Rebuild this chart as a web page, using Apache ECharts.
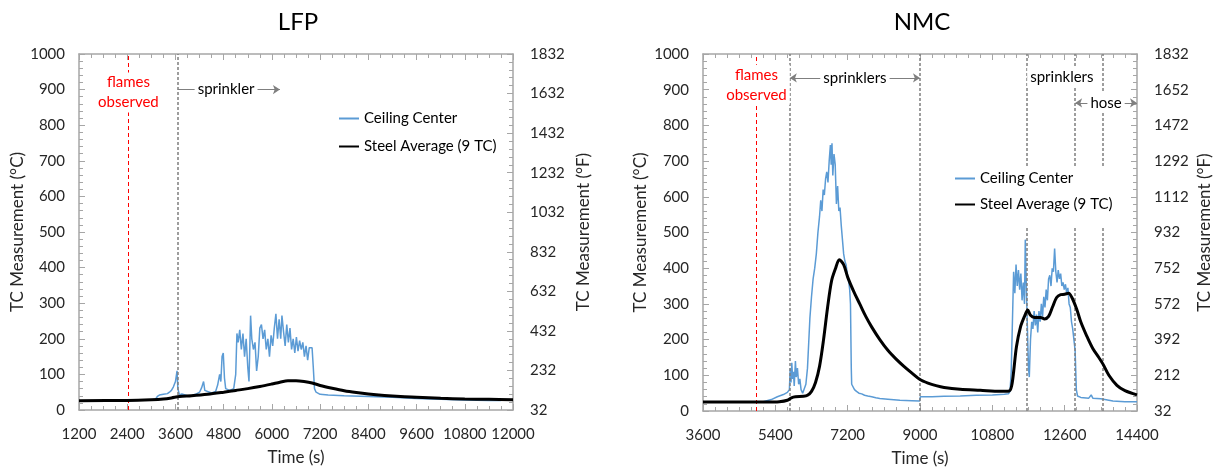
<!DOCTYPE html>
<html lang="en">
<head>
<meta charset="UTF-8">
<title>LFP / NMC</title>
<script src="https://cdn.jsdelivr.net/npm/echarts@6/dist/echarts.min.js"></script>
<style>
  html, body { margin: 0; padding: 0; background: #fff; }
  #main { width: 1225px; height: 468px; }
</style>
</head>
<body>
<div id="main"></div>
<script>
var FONT = 'Lato';

// ---- LFP test ----
var lfpCeiling = [
  [1200,26],[1800,26],[2400,27],[3000,28],[3100,30],[3150,38],[3200,42],[3300,44],[3400,46],[3450,50],
  [3500,55],[3550,65],[3600,80],[3640,110],[3660,60],[3700,42],[3760,45],[3800,40],[3900,40],[4000,41],
  [4100,44],[4200,50],[4250,62],[4300,80],[4330,55],[4400,52],[4500,48],[4600,52],[4650,70],[4700,100],
  [4730,80],[4760,150],[4790,160],[4820,90],[4850,60],[4950,55],[5050,60],[5100,100],[5130,215],[5160,190],
  [5200,225],[5240,170],[5280,215],[5320,150],[5360,200],[5400,120],[5430,80],[5470,265],[5500,200],[5540,170],
  [5580,190],[5620,110],[5660,150],[5700,230],[5740,240],[5780,200],[5820,225],[5860,170],[5900,200],[5940,150],
  [5980,210],[6020,180],[6060,230],[6100,270],[6140,200],[6180,255],[6220,200],[6250,265],[6290,220],[6330,180],
  [6370,240],[6410,190],[6450,230],[6490,170],[6530,200],[6570,160],[6610,205],[6650,165],[6690,195],[6730,170],
  [6770,190],[6810,150],[6850,180],[6890,140],[6930,175],[6970,170],[7000,175],[7030,120],[7060,60],[7100,50],
  [7200,44],[7400,42],[7800,40],[8400,38],[9000,36],[9600,32],[10200,30],[10800,28],[11400,27],[11700,27]
];
var lfpSteel = [
  [1200,26],[2400,27],[3000,29],[3300,31],[3500,34],[3700,38],[4000,40],[4400,44],[4800,50],[5100,55],
  [5400,60],[5700,66],[6000,73],[6200,78],[6400,82],[6600,82],[6800,80],[7000,76],[7200,69],[7500,61],
  [7800,54],[8100,49],[8400,45],[8800,41],[9200,38],[9600,36],[10200,33],[10800,31],[11400,30],[12000,29]
];
var lfpFlames = [2430];
var lfpSprinkler = [3660];

// ---- NMC test ----
var nmcCeiling = [
  [3600,25],[4200,25],[4800,25],[5100,26],[5300,32],[5450,40],[5600,46],[5700,52],[5750,60],[5770,120],
  [5790,80],[5810,135],[5830,90],[5850,110],[5870,70],[5900,140],[5920,95],[5950,120],[5980,75],[6010,90],
  [6040,60],[6080,50],[6120,55],[6160,75],[6200,120],[6230,190],[6260,260],[6300,320],[6340,370],[6380,400],
  [6420,440],[6460,500],[6500,545],[6530,590],[6560,560],[6590,620],[6620,605],[6650,650],[6680,670],[6710,640],
  [6740,700],[6770,745],[6790,690],[6810,750],[6830,660],[6860,720],[6890,690],[6920,580],[6950,630],[6980,560],
  [7010,570],[7040,520],[7070,480],[7100,440],[7130,420],[7160,410],[7190,385],[7220,370],[7250,340],[7270,300],
  [7290,120],[7300,75],[7330,70],[7370,60],[7420,55],[7480,50],[7550,48],[7620,44],[7700,42],[7800,40],
  [7900,37],[8000,35],[8200,33],[8500,30],[8800,29],[8990,28],[9010,40],[9300,40],[9600,41],[10000,42],
  [10400,44],[10800,45],[11100,47],[11200,48],[11240,55],[11270,110],[11300,250],[11330,390],[11360,330],[11390,410],
  [11420,350],[11450,395],[11480,340],[11510,385],[11540,310],[11570,360],[11600,300],[11620,480],[11650,330],[11680,200],
  [11700,120],[11720,95],[11750,200],[11780,250],[11810,230],[11840,280],[11870,240],[11900,270],[11930,220],[11960,280],
  [11990,250],[12020,300],[12050,265],[12080,320],[12110,290],[12140,340],[12170,310],[12200,370],[12230,380],[12260,350],
  [12290,400],[12320,390],[12350,455],[12380,390],[12410,360],[12440,395],[12470,370],[12500,385],[12530,350],[12560,360],
  [12590,340],[12620,355],[12650,330],[12680,345],[12710,300],[12740,290],[12770,250],[12800,230],[12830,200],[12860,170],
  [12890,60],[12920,42],[13000,38],[13200,36],[13260,45],[13300,36],[13500,34],[13800,28],[14100,26],[14400,26]
];
var nmcSteel = [
  [3600,25],[4500,25],[5200,25],[5500,26],[5700,30],[5800,37],[5900,40],[6100,41],[6200,44],[6300,55],
  [6400,80],[6500,125],[6600,200],[6700,290],[6800,365],[6900,400],[6990,424],[7100,410],[7200,375],[7350,335],
  [7500,300],[7650,265],[7800,235],[8000,200],[8200,170],[8400,146],[8600,125],[8800,106],[9000,88],[9200,78],
  [9400,71],[9600,66],[10000,61],[10500,58],[11000,55],[11220,56],[11280,70],[11330,110],[11400,180],[11500,235],
  [11600,265],[11680,283],[11750,268],[11850,262],[12000,262],[12100,258],[12200,265],[12300,292],[12400,318],[12500,326],
  [12600,327],[12700,330],[12780,318],[12900,285],[13000,250],[13150,210],[13300,175],[13450,150],[13550,132],[13700,100],
  [13900,72],[14100,57],[14400,45]
];
var nmcFlames = [4930];
var nmcEvents = [5760, 9000, 11660, 12860, 13550];

var LINE = '#a6a6a6';
var TXT = '#262626';

function plain(v) { return String(v); }

function xAxisPair(grid, min, max, interval, split) {
  var base = {
    type: 'value', gridIndex: grid, min: min, max: max, interval: interval,
    axisLine: { show: true, onZero: false, lineStyle: { color: LINE, width: 1.5 } },
    axisTick: { show: true, inside: true, length: 6, lineStyle: { color: LINE } },
    minorTick: { show: true, splitNumber: split, length: 4, lineStyle: { color: LINE } },
    splitLine: { show: false }
  };
  var bottom = Object.assign({}, base, {
    position: 'bottom',
    axisLabel: { color: TXT, fontSize: 15, fontFamily: FONT, margin: 17, formatter: plain },
    name: 'Time (s)', nameLocation: 'middle', nameGap: 39,
    nameTextStyle: { color: TXT, fontSize: 17, fontFamily: FONT }
  });
  var top = Object.assign({}, base, { position: 'top', axisLabel: { show: false } });
  return [bottom, top];
}

function yAxisPair(grid, fInterval, gapL, gapR) {
  var base = {
    type: 'value', gridIndex: grid, min: 0,
    axisLine: { show: true, onZero: false, lineStyle: { color: LINE, width: 1.5 } },
    axisTick: { show: true, inside: true, length: 6, lineStyle: { color: LINE } },
    minorTick: { show: true, splitNumber: 5, length: 4, lineStyle: { color: LINE } },
    splitLine: { show: false },
    nameLocation: 'middle', nameRotate: 90,
    nameTextStyle: { color: TXT, fontSize: 17, fontFamily: FONT }
  };
  var left = Object.assign({}, base, {
    position: 'left', max: 1000, interval: 100,
    axisLabel: { color: TXT, fontSize: 15, fontFamily: FONT, margin: 14, formatter: plain },
    name: 'TC Measurement (°C)', nameGap: gapL
  });
  // Fahrenheit scale drawn as (F - 32) so that ticks start at zero
  var right = Object.assign({}, base, {
    position: 'right', max: 1800, interval: fInterval,
    axisLabel: { color: TXT, fontSize: 15, fontFamily: FONT, margin: 17,
      formatter: function (v) { return String(Math.round(v + 32)); } },
    name: 'TC Measurement (°F)', nameGap: gapR
  });
  return [left, right];
}

function vLines(xs, color, type) {
  return xs.map(function (x) {
    return { xAxis: x, lineStyle: { color: color, type: type, width: color === 'red' ? 1 : 1.5 } };
  });
}

function arrowLine(x0, x1, y, s0, s1) {
  return [
    { coord: [x0, y], symbol: s0, lineStyle: { color: '#7f7f7f', width: 1, type: 'solid' } },
    { coord: [x1, y], symbol: s1 }
  ];
}

function note(x, y, text, color) {
  return {
    coord: [x, y], name: text,
    label: { show: true, position: 'inside', formatter: '{b}', color: color || '#000',
      fontSize: 15, fontFamily: FONT, lineHeight: 20, backgroundColor: '#fff', padding: [0, 3] }
  };
}

var markPointBase = {
  symbol: 'rect', symbolSize: 1, itemStyle: { color: 'rgba(0,0,0,0)' }, z: 6, silent: true
};

function legendAt(left, top, gap, padding) {
  return {
    data: ['Ceiling Center', 'Steel Average (9 TC)'], orient: 'vertical', left: left, top: top,
    itemGap: gap, itemWidth: 20, itemHeight: 12, selectedMode: false,
    itemStyle: { opacity: 0 },
    textStyle: { fontSize: 15, fontFamily: FONT, color: '#000' },
    backgroundColor: '#fff', padding: padding
  };
}

var option = {
  animation: false,
  backgroundColor: '#fff',
  graphic: [
    { type: 'text', x: 298, y: 10, style: { text: 'LFP', fill: '#000', font: '24px Lato', textAlign: 'center' } },
    { type: 'text', x: 922, y: 10, style: { text: 'NMC', fill: '#000', font: '24px Lato', textAlign: 'center' } }
  ],
  grid: [
    { left: 79, right: 712, top: 54, bottom: 58, containLabel: false, outerBoundsMode: 'none' },
    { left: 703, right: 88, top: 54, bottom: 57, containLabel: false, outerBoundsMode: 'none' }
  ],
  xAxis: xAxisPair(0, 1200, 12000, 1200, 4).concat(xAxisPair(1, 3600, 14400, 1800, 6)),
  yAxis: yAxisPair(0, 200, 53, 62).concat(yAxisPair(1, 180, 54, 59)),
  legend: [
    legendAt(334, 107, 13, [4, 4, 4, 4]),
    legendAt(950, 167, 11, [4, 6, 16, 4])
  ],
  series: [
    {
      name: 'Ceiling Center', type: 'line', xAxisIndex: 0, yAxisIndex: 0, data: lfpCeiling,
      symbol: 'none', lineStyle: { color: '#5b9bd5', width: 1.5 }, itemStyle: { color: '#5b9bd5' }, z: 2,
      markLine: {
        silent: true, symbol: 'none', symbolSize: 7, label: { show: false }, z: 3,
        data: vLines(lfpFlames, 'red', [4, 3]).concat(vLines(lfpSprinkler, '#7f7f7f', [3, 2]))
          .concat([arrowLine(3660, 6200, 900, 'none', 'arrow')])
      }
    },
    {
      name: 'Steel Average (9 TC)', type: 'line', xAxisIndex: 0, yAxisIndex: 0, data: lfpSteel,
      symbol: 'none', smooth: 0.3, lineStyle: { color: '#000', width: 3 }, itemStyle: { color: '#000' }, z: 3,
      markPoint: Object.assign({}, markPointBase, {
        data: [note(2430, 892, 'flames\nobserved', '#ff0000'), note(4860, 900, 'sprinkler')]
      })
    },
    {
      name: 'Ceiling Center', type: 'line', xAxisIndex: 2, yAxisIndex: 2, data: nmcCeiling,
      symbol: 'none', lineStyle: { color: '#5b9bd5', width: 1.5 }, itemStyle: { color: '#5b9bd5' }, z: 2,
      markLine: {
        silent: true, symbol: 'none', symbolSize: 7, label: { show: false }, z: 3,
        data: vLines(nmcFlames, 'red', [4, 3]).concat(vLines(nmcEvents, '#7f7f7f', [3, 2]))
          .concat([
            arrowLine(5760, 9000, 933, 'arrow', 'arrow'),
            arrowLine(11660, 13370, 936, 'arrow', 'arrow'),
            arrowLine(12860, 14400, 863, 'arrow', 'arrow')
          ])
      }
    },
    {
      name: 'Steel Average (9 TC)', type: 'line', xAxisIndex: 2, yAxisIndex: 2, data: nmcSteel,
      symbol: 'none', smooth: 0.3, lineStyle: { color: '#000', width: 3 }, itemStyle: { color: '#000' }, z: 3,
      markPoint: Object.assign({}, markPointBase, {
        data: [
          note(4930, 914, 'flames\nobserved', '#ff0000'),
          note(7380, 933, 'sprinklers'),
          note(12530, 936, 'sprinklers'),
          note(13630, 863, 'hose')
        ]
      })
    }
  ]
};

var chart = echarts.init(document.getElementById('main'));
chart.setOption(option);
</script>
</body>
</html>
